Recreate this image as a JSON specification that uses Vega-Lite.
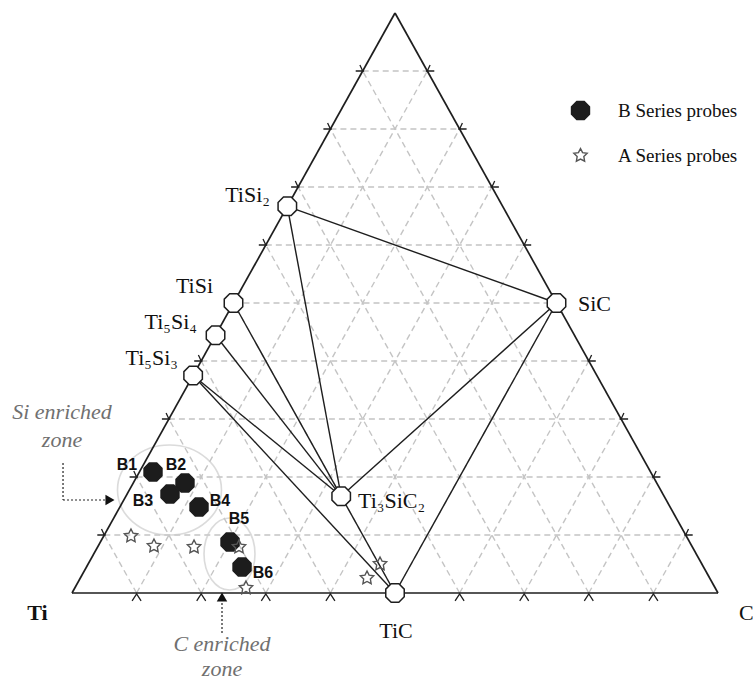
{
  "$schema": "https://vega.github.io/schema/vega-lite/v6.json",
  "width": 753,
  "height": 682,
  "autosize": {"type": "none"},
  "padding": 0,
  "background": "white",
  "config": {"view": {"stroke": null}},
  "datasets": {
    "grid": [
      {"x": 0.05, "y": 0.1, "x2": 0.95, "y2": 0.1},
      {"x": 0.1, "y": 0.2, "x2": 0.9, "y2": 0.2},
      {"x": 0.15, "y": 0.3, "x2": 0.85, "y2": 0.3},
      {"x": 0.2, "y": 0.4, "x2": 0.8, "y2": 0.4},
      {"x": 0.25, "y": 0.5, "x2": 0.75, "y2": 0.5},
      {"x": 0.3, "y": 0.6, "x2": 0.7, "y2": 0.6},
      {"x": 0.35, "y": 0.7, "x2": 0.65, "y2": 0.7},
      {"x": 0.4, "y": 0.8, "x2": 0.6, "y2": 0.8},
      {"x": 0.45, "y": 0.9, "x2": 0.55, "y2": 0.9},
      {"x": 0.1, "y": 0, "x2": 0.55, "y2": 0.9},
      {"x": 0.2, "y": 0, "x2": 0.6, "y2": 0.8},
      {"x": 0.3, "y": 0, "x2": 0.65, "y2": 0.7},
      {"x": 0.4, "y": 0, "x2": 0.7, "y2": 0.6},
      {"x": 0.5, "y": 0, "x2": 0.75, "y2": 0.5},
      {"x": 0.6, "y": 0, "x2": 0.8, "y2": 0.4},
      {"x": 0.7, "y": 0, "x2": 0.85, "y2": 0.3},
      {"x": 0.8, "y": 0, "x2": 0.9, "y2": 0.2},
      {"x": 0.9, "y": 0, "x2": 0.95, "y2": 0.1},
      {"x": 0.1, "y": 0, "x2": 0.05, "y2": 0.1},
      {"x": 0.2, "y": 0, "x2": 0.1, "y2": 0.2},
      {"x": 0.3, "y": 0, "x2": 0.15, "y2": 0.3},
      {"x": 0.4, "y": 0, "x2": 0.2, "y2": 0.4},
      {"x": 0.5, "y": 0, "x2": 0.25, "y2": 0.5},
      {"x": 0.6, "y": 0, "x2": 0.3, "y2": 0.6},
      {"x": 0.7, "y": 0, "x2": 0.35, "y2": 0.7},
      {"x": 0.8, "y": 0, "x2": 0.4, "y2": 0.8},
      {"x": 0.9, "y": 0, "x2": 0.45, "y2": 0.9}
    ],
    "frame": [
      {"x": 0, "y": 0, "x2": 1, "y2": 0},
      {"x": 1, "y": 0, "x2": 0.5, "y2": 1},
      {"x": 0.5, "y": 1, "x2": 0, "y2": 0}
    ],
    "ties": [
      {"x": 0.3333, "y": 0.6667, "x2": 0.75, "y2": 0.5},
      {"x": 0.3333, "y": 0.6667, "x2": 0.4167, "y2": 0.1667},
      {"x": 0.75, "y": 0.5, "x2": 0.4167, "y2": 0.1667},
      {"x": 0.75, "y": 0.5, "x2": 0.5, "y2": 0},
      {"x": 0.25, "y": 0.5, "x2": 0.4167, "y2": 0.1667},
      {"x": 0.2222, "y": 0.4444, "x2": 0.4167, "y2": 0.1667},
      {"x": 0.1875, "y": 0.375, "x2": 0.4167, "y2": 0.1667},
      {"x": 0.1875, "y": 0.375, "x2": 0.5, "y2": 0},
      {"x": 0.4167, "y": 0.1667, "x2": 0.5, "y2": 0}
    ],
    "ticks": [
      {"side": "base", "x": 0.1, "y": 0}, {"side": "base", "x": 0.2, "y": 0},
      {"side": "base", "x": 0.3, "y": 0}, {"side": "base", "x": 0.4, "y": 0},
      {"side": "base", "x": 0.5, "y": 0}, {"side": "base", "x": 0.6, "y": 0},
      {"side": "base", "x": 0.7, "y": 0}, {"side": "base", "x": 0.8, "y": 0},
      {"side": "base", "x": 0.9, "y": 0},
      {"side": "left", "x": 0.05, "y": 0.1}, {"side": "left", "x": 0.1, "y": 0.2},
      {"side": "left", "x": 0.15, "y": 0.3}, {"side": "left", "x": 0.2, "y": 0.4},
      {"side": "left", "x": 0.25, "y": 0.5}, {"side": "left", "x": 0.3, "y": 0.6},
      {"side": "left", "x": 0.35, "y": 0.7}, {"side": "left", "x": 0.4, "y": 0.8},
      {"side": "left", "x": 0.45, "y": 0.9},
      {"side": "right", "x": 0.95, "y": 0.1}, {"side": "right", "x": 0.9, "y": 0.2},
      {"side": "right", "x": 0.85, "y": 0.3}, {"side": "right", "x": 0.8, "y": 0.4},
      {"side": "right", "x": 0.75, "y": 0.5}, {"side": "right", "x": 0.7, "y": 0.6},
      {"side": "right", "x": 0.65, "y": 0.7}, {"side": "right", "x": 0.6, "y": 0.8},
      {"side": "right", "x": 0.55, "y": 0.9}
    ],
    "zones": [
      {"zone": "Si", "x": 0.1509, "y": 0.1776},
      {"zone": "C", "x": 0.2438, "y": 0.0672}
    ],
    "arrows": [
      {"x": -0.0139, "y": 0.2241, "x2": -0.0139, "y2": 0.1603},
      {"x": -0.0139, "y": 0.1603, "x2": 0.0526, "y2": 0.1603},
      {"x": 0.2322, "y": -0.0172, "x2": 0.2322, "y2": -0.069}
    ],
    "heads": [
      {"dir": "right", "x": 0.0588, "y": 0.1603},
      {"dir": "up", "x": 0.2322, "y": -0.0069}
    ],
    "compounds": [
      {"name": "TiSi2", "x": 0.3333, "y": 0.6667},
      {"name": "TiSi", "x": 0.25, "y": 0.5},
      {"name": "Ti5Si4", "x": 0.2222, "y": 0.4444},
      {"name": "Ti5Si3", "x": 0.1875, "y": 0.375},
      {"name": "SiC", "x": 0.75, "y": 0.5},
      {"name": "Ti3SiC2", "x": 0.4167, "y": 0.1667},
      {"name": "TiC", "x": 0.5, "y": 0}
    ],
    "probes": [
      {"series": "B Series probes", "id": "B1", "x": 0.1254, "y": 0.2086},
      {"series": "B Series probes", "id": "B2", "x": 0.1749, "y": 0.1897},
      {"series": "B Series probes", "id": "B3", "x": 0.1517, "y": 0.1707},
      {"series": "B Series probes", "id": "B4", "x": 0.1966, "y": 0.1483},
      {"series": "B Series probes", "id": "B5", "x": 0.2446, "y": 0.0879},
      {"series": "B Series probes", "id": "B6", "x": 0.2632, "y": 0.0448},
      {"series": "A Series probes", "id": "A1", "x": 0.0913, "y": 0.0983},
      {"series": "A Series probes", "id": "A2", "x": 0.1269, "y": 0.081},
      {"series": "A Series probes", "id": "A3", "x": 0.1889, "y": 0.0793},
      {"series": "A Series probes", "id": "A4", "x": 0.2585, "y": 0.0793},
      {"series": "A Series probes", "id": "A5", "x": 0.2693, "y": 0.0086},
      {"series": "A Series probes", "id": "A6", "x": 0.4768, "y": 0.05},
      {"series": "A Series probes", "id": "A7", "x": 0.4567, "y": 0.0259}
    ],
    "labels": [
      {"kind": "cmpL", "text": "TiSi₂", "x": 0.3065, "y": 0.6741},
      {"kind": "cmpL", "text": "TiSi", "x": 0.2183, "y": 0.5172},
      {"kind": "cmpL", "text": "Ti₅Si₄", "x": 0.1935, "y": 0.4552},
      {"kind": "cmpL", "text": "Ti₅Si₃", "x": 0.1641, "y": 0.3931},
      {"kind": "cmpR", "text": "SiC", "x": 0.7833, "y": 0.4862},
      {"kind": "cmpR", "text": "Ti₃SiC₂", "x": 0.4427, "y": 0.1466},
      {"kind": "cmpR", "text": "C", "x": 1.0325, "y": -0.0466},
      {"kind": "cmpC", "text": "TiC", "x": 0.5015, "y": -0.0776},
      {"kind": "bold", "text": "Ti", "x": -0.0534, "y": -0.0466},
      {"kind": "probe", "text": "B1", "x": 0.0851, "y": 0.2121},
      {"kind": "probe", "text": "B2", "x": 0.161, "y": 0.2121},
      {"kind": "probe", "text": "B3", "x": 0.1099, "y": 0.15},
      {"kind": "probe", "text": "B4", "x": 0.2291, "y": 0.15},
      {"kind": "probe", "text": "B5", "x": 0.2585, "y": 0.119},
      {"kind": "probe", "text": "B6", "x": 0.2957, "y": 0.0259},
      {"kind": "zone", "text": "Si enriched", "x": -0.0155, "y": 0.3},
      {"kind": "zone", "text": "zone", "x": -0.0155, "y": 0.2517},
      {"kind": "zone", "text": "C enriched", "x": 0.2322, "y": -0.1},
      {"kind": "zone", "text": "zone", "x": 0.2322, "y": -0.1425}
    ]
  },
  "encoding": {
    "x": {"field": "x", "type": "quantitative", "axis": null,
          "scale": {"domain": [-0.11146, 1.05418], "nice": false, "zero": false}},
    "y": {"field": "y", "type": "quantitative", "axis": null,
          "scale": {"domain": [-0.15345, 1.02241], "nice": false, "zero": false}}
  },
  "layer": [
    {
      "data": {"name": "grid"},
      "mark": {"type": "rule", "color": "#c4c4c4", "strokeWidth": 1.4, "strokeDash": [6, 4]},
      "encoding": {"x2": {"field": "x2"}, "y2": {"field": "y2"}}
    },
    {
      "data": {"name": "zones"},
      "transform": [{"filter": "datum.zone === 'Si'"}],
      "mark": {"type": "point", "filled": false, "stroke": "#cccccc", "strokeWidth": 1.6, "size": 10816,
               "shape": "M1,0 C1,0.4777 0.5523,0.865 0,0.865 C-0.5523,0.865 -1,0.4777 -1,0 C-1,-0.4777 -0.5523,-0.865 0,-0.865 C0.5523,-0.865 1,-0.4777 1,0 Z"}
    },
    {
      "data": {"name": "zones"},
      "transform": [{"filter": "datum.zone === 'C'"}],
      "mark": {"type": "point", "filled": false, "stroke": "#cccccc", "strokeWidth": 1.6, "size": 5184,
               "shape": "M0.708,0 C0.708,0.5523 0.391,1 0,1 C-0.391,1 -0.708,0.5523 -0.708,0 C-0.708,-0.5523 -0.391,-1 0,-1 C0.391,-1 0.708,-0.5523 0.708,0 Z"}
    },
    {
      "data": {"name": "frame"},
      "mark": {"type": "rule", "color": "#1e1e1e", "strokeWidth": 1.7},
      "encoding": {"x2": {"field": "x2"}, "y2": {"field": "y2"}}
    },
    {
      "data": {"name": "ties"},
      "mark": {"type": "rule", "color": "#1e1e1e", "strokeWidth": 1.4},
      "encoding": {"x2": {"field": "x2"}, "y2": {"field": "y2"}}
    },
    {
      "data": {"name": "ticks"},
      "transform": [{"filter": "datum.side === 'base'"}],
      "mark": {"type": "point", "filled": false, "stroke": "#1e1e1e", "strokeWidth": 1.3, "size": 144, "opacity": 1,
               "shape": "M-0.75,1.3 L0,0.15 L0.75,1.3"}
    },
    {
      "data": {"name": "ticks"},
      "transform": [{"filter": "datum.side === 'left'"}],
      "mark": {"type": "point", "filled": false, "stroke": "#1e1e1e", "strokeWidth": 1.3, "size": 196, "opacity": 1,
               "shape": "M-1,0 L0.2,0 M0,0 L-0.4,-0.85"}
    },
    {
      "data": {"name": "ticks"},
      "transform": [{"filter": "datum.side === 'right'"}],
      "mark": {"type": "point", "filled": false, "stroke": "#1e1e1e", "strokeWidth": 1.3, "size": 196, "opacity": 1,
               "shape": "M1,0 L-0.2,0 M0,0 L0.4,-0.85"}
    },
    {
      "data": {"name": "arrows"},
      "mark": {"type": "rule", "color": "#222222", "strokeWidth": 1.2, "strokeDash": [2, 2]},
      "encoding": {"x2": {"field": "x2"}, "y2": {"field": "y2"}}
    },
    {
      "data": {"name": "heads"},
      "transform": [{"filter": "datum.dir === 'right'"}],
      "mark": {"type": "point", "filled": true, "color": "#111111", "opacity": 1, "size": 110, "shape": "triangle-right"}
    },
    {
      "data": {"name": "heads"},
      "transform": [{"filter": "datum.dir === 'up'"}],
      "mark": {"type": "point", "filled": true, "color": "#111111", "opacity": 1, "size": 110, "shape": "triangle-up"}
    },
    {
      "data": {"name": "compounds"},
      "mark": {"type": "point", "filled": false, "fill": "white", "stroke": "#1e1e1e", "strokeWidth": 1.5, "opacity": 1, "size": 400,
               "shape": "M0.924,0.383 L0.383,0.924 L-0.383,0.924 L-0.924,0.383 L-0.924,-0.383 L-0.383,-0.924 L0.383,-0.924 L0.924,-0.383 Z"}
    },
    {
      "data": {"name": "probes"},
      "mark": {"type": "point", "strokeWidth": 1.4, "opacity": 1, "size": 380},
      "encoding": {
        "shape": {"field": "series", "type": "nominal",
                  "scale": {"domain": ["B Series probes", "A Series probes"],
                            "range": ["M0.924,0.383 L0.383,0.924 L-0.383,0.924 L-0.924,0.383 L-0.924,-0.383 L-0.383,-0.924 L0.383,-0.924 L0.924,-0.383 Z",
                                      "M0,-0.72 L0.2116,-0.2912 L0.6848,-0.2225 L0.3424,0.1112 L0.4232,0.5825 L0,0.36 L-0.4232,0.5825 L-0.3424,0.1112 L-0.6848,-0.2225 L-0.2116,-0.2912 Z"]},
                  "legend": {"title": null, "orient": "none", "legendX": 570, "legendY": 100,
                             "labelFont": "Liberation Serif", "labelFontSize": 19, "labelColor": "#111111",
                             "labelOffset": 27, "rowPadding": 22, "padding": 0, "symbolSize": 380, "symbolStrokeWidth": 1.4}},
        "fill": {"field": "series", "type": "nominal",
                 "scale": {"domain": ["B Series probes", "A Series probes"], "range": ["#1c1c1c", "transparent"]}},
        "stroke": {"field": "series", "type": "nominal",
                   "scale": {"domain": ["B Series probes", "A Series probes"], "range": ["#1c1c1c", "#555555"]}}
      }
    },
    {
      "data": {"name": "labels"},
      "transform": [{"filter": "datum.kind === 'cmpL'"}],
      "mark": {"type": "text", "font": "Liberation Serif", "fontSize": 22, "align": "right", "baseline": "alphabetic", "color": "#111111"},
      "encoding": {"text": {"field": "text"}}
    },
    {
      "data": {"name": "labels"},
      "transform": [{"filter": "datum.kind === 'cmpR'"}],
      "mark": {"type": "text", "font": "Liberation Serif", "fontSize": 22, "align": "left", "baseline": "alphabetic", "color": "#111111"},
      "encoding": {"text": {"field": "text"}}
    },
    {
      "data": {"name": "labels"},
      "transform": [{"filter": "datum.kind === 'cmpC'"}],
      "mark": {"type": "text", "font": "Liberation Serif", "fontSize": 22, "align": "center", "baseline": "alphabetic", "color": "#111111"},
      "encoding": {"text": {"field": "text"}}
    },
    {
      "data": {"name": "labels"},
      "transform": [{"filter": "datum.kind === 'bold'"}],
      "mark": {"type": "text", "font": "Liberation Serif", "fontSize": 22, "fontWeight": "bold", "align": "center", "baseline": "alphabetic", "color": "#111111"},
      "encoding": {"text": {"field": "text"}}
    },
    {
      "data": {"name": "labels"},
      "transform": [{"filter": "datum.kind === 'probe'"}],
      "mark": {"type": "text", "font": "Liberation Sans", "fontSize": 16, "fontWeight": "bold", "align": "center", "baseline": "alphabetic", "color": "#111111"},
      "encoding": {"text": {"field": "text"}}
    },
    {
      "data": {"name": "labels"},
      "transform": [{"filter": "datum.kind === 'zone'"}],
      "mark": {"type": "text", "font": "Liberation Serif", "fontSize": 22, "fontStyle": "italic", "align": "center", "baseline": "alphabetic", "color": "#707070"},
      "encoding": {"text": {"field": "text"}}
    }
  ]
}
